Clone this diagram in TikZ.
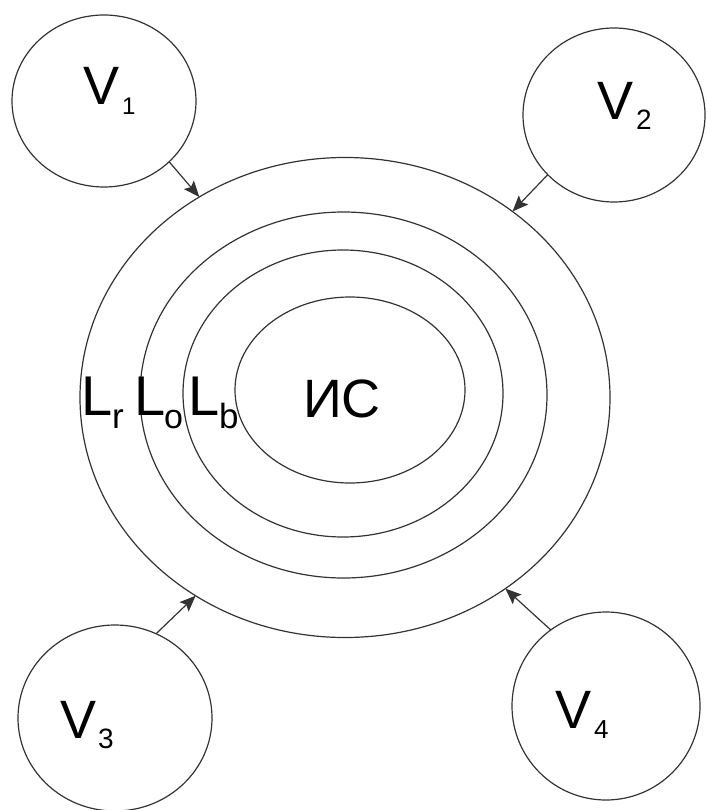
\documentclass[tikz,border=0pt]{standalone}
\usepackage{fontspec}
\setmainfont{Liberation Sans}
\usetikzlibrary{shapes.geometric,arrows.meta}
\begin{document}
\begin{tikzpicture}[x=1pt,y=-1pt,
  ring/.style={draw=black!80, line width=1.2pt, ellipse, inner sep=0pt, outer sep=0pt},
  arr/.style={draw=black!80, line width=1.2pt, -{Stealth[length=16pt,width=13pt,inset=3pt]}},
  lbl/.style={anchor=base west, inner sep=0pt, outer sep=0pt}]
\useasboundingbox (0,0) rectangle (706,810);
% rings
\node[ring, minimum width=530pt, minimum height=480pt] (outer) at (345,397.5) {};
\node[ring, minimum width=407pt, minimum height=366pt] (second) at (343.5,395) {};
\node[ring, minimum width=320pt, minimum height=287pt] (third) at (343,393.5) {};
\node[ring, minimum width=230pt, minimum height=186pt] (core) at (350,390) {};
% outer circles
\node[ring, minimum width=184pt, minimum height=172pt] (v1) at (104,101) {};
\node[ring, minimum width=182pt, minimum height=174pt] (v2) at (614,115) {};
\node[ring, minimum width=194pt, minimum height=186pt] (v3) at (115,718) {};
\node[ring, minimum width=188pt, minimum height=188pt] (v4) at (606,706) {};
% arrows
\draw[arr] (v1.-43) -- (outer.126);
\draw[arr] (v2.-138) -- (outer.48);
\draw[arr] (v3.64) -- (outer.-127);
\draw[arr] (v4.126) -- (outer.-50);
% texts
\node[lbl, font=\fontsize{54}{54}\selectfont] (ic) at (303,417) {ИС};
\node[lbl, font=\fontsize{56}{56}\selectfont] (lr) at (81,415) {L\raisebox{-13pt}{\fontsize{35}{35}\selectfont r}};
\node[lbl, font=\fontsize{56}{56}\selectfont] (lo) at (134,415) {L\kern-1pt\raisebox{-13pt}{\fontsize{34}{34}\selectfont o}};
\node[lbl, font=\fontsize{56}{56}\selectfont] (lb) at (188,415) {L\raisebox{-13pt}{\fontsize{35}{35}\selectfont b}};
\node[lbl, font=\fontsize{54}{54}\selectfont] (t1) at (83,105) {V\kern3pt\raisebox{-10pt}{\fontsize{24}{24}\selectfont 1}};
\node[lbl, font=\fontsize{54}{54}\selectfont] (t2) at (597,120) {V\kern3pt\raisebox{-10pt}{\fontsize{28}{28}\selectfont 2}};
\node[lbl, font=\fontsize{54}{54}\selectfont] (t3) at (60,738) {V\kern2pt\raisebox{-10pt}{\fontsize{28}{28}\selectfont 3}};
\node[lbl, font=\fontsize{54}{54}\selectfont] (t4) at (555,728) {V\kern3pt\raisebox{-10pt}{\fontsize{26}{26}\selectfont 4}};
\end{tikzpicture}
\end{document}
